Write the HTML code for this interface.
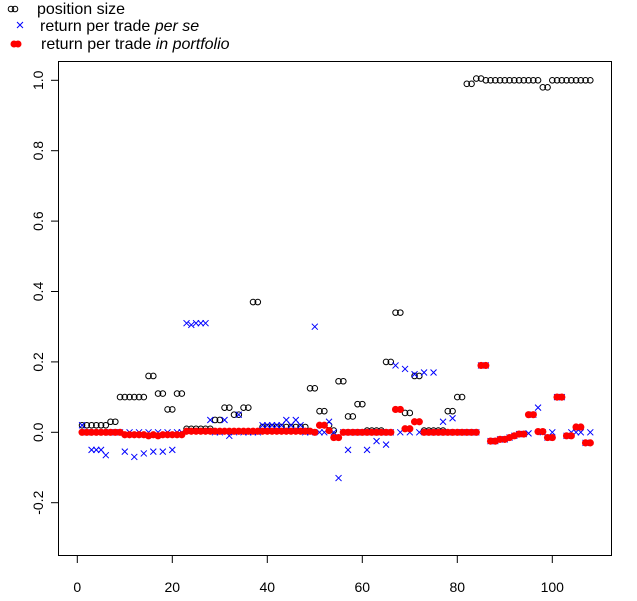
<!DOCTYPE html>
<html><head><meta charset="utf-8"><style>
html,body{margin:0;padding:0;background:#fff;}
svg{display:block;font-family:"Liberation Sans",sans-serif;}
</style></head><body>
<svg id="s" width="637" height="601" viewBox="0 0 637 601" xmlns="http://www.w3.org/2000/svg">
<rect x="0" y="0" width="637" height="601" fill="#fff"/>
<rect x="58.5" y="61.5" width="553" height="494" fill="none" stroke="#000" stroke-width="1"/>
<g stroke="#000" stroke-width="1">
<line x1="51" x2="58.5" y1="80.3" y2="80.3"/><line x1="51" x2="58.5" y1="150.7" y2="150.7"/>
<line x1="51" x2="58.5" y1="221.1" y2="221.1"/><line x1="51" x2="58.5" y1="291.5" y2="291.5"/>
<line x1="51" x2="58.5" y1="361.9" y2="361.9"/><line x1="51" x2="58.5" y1="432.3" y2="432.3"/>
<line x1="51" x2="58.5" y1="502.7" y2="502.7"/>
<line x1="77.3" x2="77.3" y1="555.5" y2="563"/><line x1="172.3" x2="172.3" y1="555.5" y2="563"/>
<line x1="267.3" x2="267.3" y1="555.5" y2="563"/><line x1="362.3" x2="362.3" y1="555.5" y2="563"/>
<line x1="457.3" x2="457.3" y1="555.5" y2="563"/><line x1="552.3" x2="552.3" y1="555.5" y2="563"/>
</g>
<g font-size="14" fill="#000" text-anchor="middle">
<text x="77.3" y="592">0</text><text x="172.3" y="592">20</text><text x="267.3" y="592">40</text>
<text x="362.3" y="592">60</text><text x="457.3" y="592">80</text><text x="552.3" y="592">100</text>
<text transform="translate(43,80.3) rotate(-90)">1.0</text>
<text transform="translate(43,150.7) rotate(-90)">0.8</text>
<text transform="translate(43,221.1) rotate(-90)">0.6</text>
<text transform="translate(43,291.5) rotate(-90)">0.4</text>
<text transform="translate(43,361.9) rotate(-90)">0.2</text>
<text transform="translate(43,432.3) rotate(-90)">0.0</text>
<text transform="translate(43,502.7) rotate(-90)">-0.2</text>
</g>
<g id="pts"></g>
<g font-size="16" fill="#000">
<circle cx="11" cy="9" r="2.8" fill="none" stroke="#000"/><circle cx="15" cy="9" r="2.8" fill="none" stroke="#000"/>
<text x="37" y="14">position size</text>
<path d="M17 22 L23 28 M23 22 L17 28" stroke="#00f" stroke-width="1"/>
<text x="40" y="31">return per trade <tspan font-style="italic">per se</tspan></text>
<circle cx="14" cy="44" r="3.5" fill="#f00"/><circle cx="18" cy="44" r="3.5" fill="#f00"/>
<text x="41" y="49">return per trade <tspan font-style="italic">in portfolio</tspan></text>
</g>
</svg>
<script>
var N=108,pos=[],bl=[],rd=[];
function set(a,f,t,v){for(var i=f;i<=t;i++)a[i]=v;}
for(var i=1;i<=N;i++){pos[i]=0.005;bl[i]=0;rd[i]=0;}
set(pos,1,6,0.02);set(pos,7,8,0.03);set(pos,9,14,0.1);set(pos,15,16,0.16);set(pos,17,18,0.11);
set(pos,19,20,0.065);set(pos,21,22,0.11);set(pos,23,28,0.01);set(pos,29,30,0.035);set(pos,31,32,0.07);
set(pos,33,34,0.05);set(pos,35,36,0.07);set(pos,37,38,0.37);set(pos,39,48,0.015);set(pos,49,50,0.125);
set(pos,51,52,0.06);pos[53]=0.02;set(pos,55,56,0.145);set(pos,57,58,0.045);set(pos,59,60,0.08);
set(pos,65,66,0.2);set(pos,67,68,0.34);set(pos,69,70,0.055);set(pos,71,72,0.16);set(pos,78,79,0.06);
set(pos,80,81,0.1);set(pos,82,83,0.99);set(pos,84,97,1.0);pos[84]=1.005;pos[85]=1.005;set(pos,98,99,0.98);set(pos,100,108,1.0);
bl[1]=0.02;set(bl,3,5,-0.05);bl[6]=-0.065;bl[10]=-0.055;bl[12]=-0.07;bl[14]=-0.06;bl[16]=-0.055;bl[18]=-0.055;bl[20]=-0.05;
set(bl,23,27,0.31);bl[24]=0.305;bl[28]=0.035;bl[31]=0.035;bl[32]=-0.01;bl[34]=0.05;
set(bl,39,47,0.02);bl[44]=0.035;bl[46]=0.035;bl[50]=0.3;bl[53]=0.03;bl[55]=-0.13;bl[57]=-0.05;
bl[61]=-0.05;bl[63]=-0.025;bl[65]=-0.035;bl[67]=0.19;bl[69]=0.18;bl[71]=0.165;bl[73]=0.17;bl[75]=0.17;
bl[77]=0.03;bl[79]=0.04;bl[85]=0.19;bl[86]=0.19;bl[95]=0.05;bl[96]=0.05;bl[97]=0.07;bl[101]=0.1;bl[102]=0.1;
for(var i=10;i<=22;i++)rd[i]=-0.007;rd[15]=-0.01;rd[17]=-0.01;
for(var i=23;i<=49;i++)rd[i]=0.003;
rd[51]=0.02;rd[52]=0.02;rd[53]=0.005;rd[54]=-0.015;rd[55]=-0.015;
rd[67]=0.065;rd[68]=0.065;rd[69]=0.01;rd[70]=0.01;rd[71]=0.03;rd[72]=0.03;
rd[85]=0.19;rd[86]=0.19;
var rv=[-0.025,-0.025,-0.02,-0.02,-0.015,-0.01,-0.005,-0.005,-0.003];for(var k=0;k<rv.length;k++){rd[87+k]=rv[k];bl[87+k]=rv[k];}
rd[95]=0.05;rd[96]=0.05;rd[97]=0.002;rd[98]=0.002;rd[99]=-0.015;rd[100]=-0.015;rd[101]=0.1;rd[102]=0.1;
rd[103]=-0.01;rd[104]=-0.01;rd[105]=0.015;rd[106]=0.015;rd[107]=-0.03;rd[108]=-0.03;
bl[99]=-0.015;bl[103]=-0.01;bl[107]=-0.03;
function X(v){return 77.3+4.75*v;}function Y(v){return 432.3-352*v;}
var h='';
for(var i=1;i<=N;i++){h+='<circle cx="'+X(i)+'" cy="'+Y(pos[i])+'" r="2.8" fill="none" stroke="#000" stroke-width="1"/>';}
for(var i=1;i<=N;i++){var x=X(i),y=Y(bl[i]);h+='<path d="M'+(x-3)+' '+(y-3)+'L'+(x+3)+' '+(y+3)+'M'+(x+3)+' '+(y-3)+'L'+(x-3)+' '+(y+3)+'" stroke="#00f" stroke-width="1"/>';}
for(var i=1;i<=N;i++){h+='<circle cx="'+X(i)+'" cy="'+Y(rd[i])+'" r="3.6" fill="#f00"/>';}
document.getElementById('pts').innerHTML=h;
</script>
</body></html>
